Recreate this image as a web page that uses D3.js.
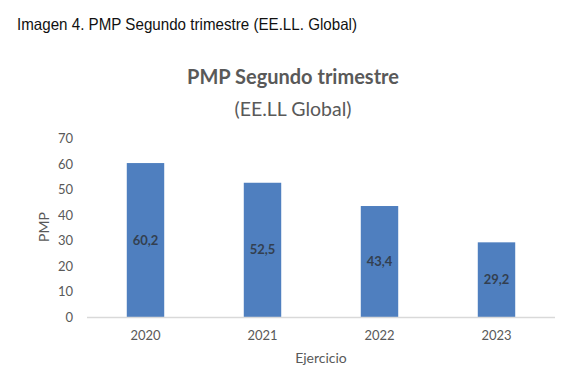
<!DOCTYPE html>
<html>
<head>
<meta charset="utf-8">
<script src="https://cdn.jsdelivr.net/npm/d3@7"></script>
<style>
  body { margin: 0; background: #fff; }
  svg text { fill: #595959; }
</style>
</head>
<body>
<svg id="grafico" width="570" height="382"></svg>
<script>
// datos del grafico
var anos = ["2020", "2021", "2022", "2023"],
    valores = [60.2, 52.5, 43.4, 29.2],
    ticksY = [0, 10, 20, 30, 40, 50, 60, 70]

var fonte = "Lato, 'Open Sans', sans-serif",
    corBarra = "#4f7fbf"

var margin = {top: 138, right: 15, bottom: 65, left: 87},
    width = 570,
    height = 382

var svg = d3.select("#grafico")

// titulo de fora (imagen)
svg.append("text")
    .attr("x", 17).attr("y", 30)
    .attr("textLength", 340)
    .attr("lengthAdjust", "spacingAndGlyphs")
    .style("font-family", "'Liberation Sans', Arial, sans-serif")
    .style("font-size", "16.5px")
    .style("fill", "#111")
    .text("Imagen 4. PMP Segundo trimestre (EE.LL. Global)")

// titulo do grafico
svg.append("text")
    .attr("x", 293).attr("y", 84)
    .attr("text-anchor", "middle")
    .style("font-family", fonte)
    .style("font-size", "20px")
    .style("font-weight", "bold")
    .text("PMP Segundo trimestre")

svg.append("text")
    .attr("x", 293).attr("y", 116)
    .attr("text-anchor", "middle")
    .style("font-family", fonte)
    .style("font-size", "19.5px")
    .text("(EE.LL Global)")

var x = d3.scaleBand()
    .domain(anos)
    .range([margin.left, width - margin.right])
    .paddingInner(0.68)
    .paddingOuter(0.34)

var y = d3.scaleLinear()
    .domain([0, 70])
    .range([height - margin.bottom, margin.top])

// eixo Y (sem linha)
var eixoY = svg.append("g")
    .attr("transform", "translate(" + (margin.left - 14) + ",0)")
    .call(d3.axisLeft(y).tickValues(ticksY).tickSize(0).tickPadding(0))
eixoY.select(".domain").remove()
eixoY.selectAll("text")
    .style("font-family", fonte)
    .style("font-size", "13px")
    .attr("dy", "0.35em")

// barras
svg.selectAll("rect.barra")
    .data(valores)
  .enter()
    .append("rect")
    .attr("class", "barra")
    .attr("x", function(d, i) { return x(anos[i]) })
    .attr("width", x.bandwidth())
    .attr("y", function(d) { return y(d) })
    .attr("height", function(d) { return y(0) - y(d) })
    .attr("fill", corBarra)

// linha base
svg.append("line")
    .attr("x1", margin.left).attr("x2", width - margin.right)
    .attr("y1", y(0) + 0.5).attr("y2", y(0) + 0.5)
    .attr("stroke", "#d9d9d9")
    .attr("stroke-width", 1.5)

// rotulos dentro das barras
svg.selectAll("text.rotulo")
    .data(valores)
  .enter()
    .append("text")
    .attr("class", "rotulo")
    .attr("x", function(d, i) { return x(anos[i]) + x.bandwidth() / 2 })
    .attr("y", function(d) { return (y(d) + y(0)) / 2 })
    .attr("dy", "0.35em")
    .attr("text-anchor", "middle")
    .style("font-family", fonte)
    .style("font-size", "13px")
    .style("font-weight", "bold")
    .style("fill", "#333f50")
    .text(function(d) { return d3.format(".1f")(d).replace(".", ",") })

// eixo X
var eixoX = svg.append("g")
    .attr("transform", "translate(0," + y(0) + ")")
    .call(d3.axisBottom(x).tickSize(0).tickPadding(14))
eixoX.select(".domain").remove()
eixoX.selectAll("text")
    .style("font-family", fonte)
    .style("font-size", "13px")

// titulos dos eixos
svg.append("text")
    .attr("transform", "translate(49,227) rotate(-90)")
    .attr("text-anchor", "middle")
    .style("font-family", fonte)
    .style("font-size", "14px")
    .text("PMP")

svg.append("text")
    .attr("x", 321).attr("y", 363)
    .attr("text-anchor", "middle")
    .style("font-family", fonte)
    .style("font-size", "14px")
    .text("Ejercicio")
</script>
</body>
</html>
